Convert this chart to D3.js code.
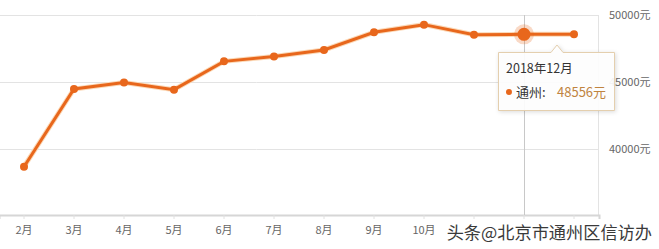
<!DOCTYPE html>
<html>
<head>
<meta charset="utf-8">
<script src="https://cdn.jsdelivr.net/npm/d3@7"></script>
<style>
  body { margin: 0; background: #fff; }
  svg { display: block; font-family: "Microsoft YaHei", "Noto Sans CJK SC", sans-serif; }
</style>
</head>
<body>
<script>
// chart data
const months = ["2月","3月","4月","5月","6月","7月","8月","9月","10月","11月","12月","1月"];
const prices = [38680, 44480, 44970, 44430, 46540, 46910, 47390, 48710, 49280, 48530, 48556, 48560];
const yTicks = [40000, 45000, 50000];
const activeIndex = 10;
const tipTitle = "2018年12月";
const seriesName = "通州";
const watermark = "头条@北京市通州区信访办";
// labels hidden under the watermark in the original
const hiddenLabels = ["11月","12月","1月"];

const W = 659, H = 249;
const orange = "#e8671c";

const svg = d3.select("body").append("svg")
  .attr("width", W).attr("height", H);

// scales
const x = d3.scaleBand().domain(months).range([-1, 599]);
const y = d3.scaleLinear().domain([35000, 50000]).range([216, 15]);
const cx = d => x(d) + x.bandwidth() / 2;

// horizontal grid
svg.append("g").selectAll("line")
  .data(yTicks)
  .enter().append("line")
  .attr("x1", 0).attr("x2", 598)
  .attr("y1", d => Math.round(y(d)) + 0.5)
  .attr("y2", d => Math.round(y(d)) + 0.5)
  .attr("stroke", "#e3e3e3");

// right border
svg.append("line")
  .attr("x1", 598.5).attr("x2", 598.5)
  .attr("y1", y(50000)).attr("y2", y(35000))
  .attr("stroke", "#e3e3e3");

// y labels on right
svg.append("g").selectAll("text")
  .data(yTicks)
  .enter().append("text")
  .attr("x", 609)
  .attr("y", d => y(d) + 4)
  .attr("font-size", 11)
  .attr("fill", "#666")
  .text(d => d + "元");

// x axis
const xAxis = d3.axisBottom(x).tickSize(4).tickPadding(7)
  .tickFormat(d => hiddenLabels.includes(d) ? "" : d);
const gx = svg.append("g")
  .attr("transform", "translate(0," + 215 + ")")
  .call(xAxis);
gx.select(".domain").attr("stroke", "#d6d6d6").attr("stroke-width", 2);
gx.selectAll(".tick line").attr("stroke", "#e0e0e0");
gx.selectAll(".tick text")
  .attr("font-size", 11)
  .attr("fill", "#666")
  .attr("font-family", "\"Microsoft YaHei\", \"Noto Sans CJK SC\", sans-serif");

// crosshair
svg.append("line")
  .attr("x1", Math.round(cx(months[activeIndex])) + 0.5)
  .attr("x2", Math.round(cx(months[activeIndex])) + 0.5)
  .attr("y1", 15).attr("y2", 215)
  .attr("stroke", "#c8c8c8");

// line
const line = d3.line()
  .x((d, i) => cx(months[i]))
  .y(d => y(d));

svg.append("path")
  .datum(prices)
  .attr("fill", "none")
  .attr("stroke", "#fbd9b8")
  .attr("stroke-width", 5)
  .attr("d", line);

svg.append("path")
  .datum(prices)
  .attr("fill", "none")
  .attr("stroke", orange)
  .attr("stroke-width", 3)
  .attr("d", line);

// points
svg.append("g").selectAll("circle")
  .data(prices)
  .enter().append("circle")
  .attr("cx", (d, i) => cx(months[i]))
  .attr("cy", d => y(d))
  .attr("r", 4)
  .attr("fill", orange);

// highlighted point
const ax = cx(months[activeIndex]), ay = y(prices[activeIndex]);
svg.append("circle")
  .attr("cx", ax).attr("cy", ay).attr("r", 10)
  .attr("fill", orange).attr("opacity", 0.25);
svg.append("circle")
  .attr("cx", ax).attr("cy", ay).attr("r", 6.5)
  .attr("fill", orange);

// tooltip
const tip = svg.append("g").attr("transform", "translate(498,52)");
tip.append("path")
  .attr("d", "M0.5,0.5 H53 L59,-7 L65,0.5 H116.5 V58.5 H0.5 Z")
  .attr("fill", "rgba(255,255,255,0.92)")
  .attr("stroke", "#e4cfae")
  .attr("stroke-width", 1)
  .style("filter", "drop-shadow(1px 1px 2px rgba(0,0,0,0.15))");
tip.append("text")
  .attr("x", 8).attr("y", 21)
  .attr("font-size", 12.5)
  .attr("fill", "#333")
  .text(tipTitle);
tip.append("circle")
  .attr("cx", 11).attr("cy", 40).attr("r", 3)
  .attr("fill", orange);
tip.append("text")
  .attr("x", 18).attr("y", 44.5)
  .attr("font-size", 13)
  .attr("fill", "#333")
  .text(seriesName + ":");
tip.append("text")
  .attr("x", 59).attr("y", 44.5)
  .attr("font-size", 13)
  .attr("fill", "#c0843f")
  .text(prices[activeIndex] + "元");

// watermark
svg.append("text")
  .attr("x", 652).attr("y", 239)
  .attr("text-anchor", "end")
  .attr("font-size", 17.2)
  .attr("fill", "#3a3a3a")
  .attr("stroke", "#fff")
  .attr("stroke-width", 3)
  .style("paint-order", "stroke")
  .text(watermark);
</script>
</body>
</html>
